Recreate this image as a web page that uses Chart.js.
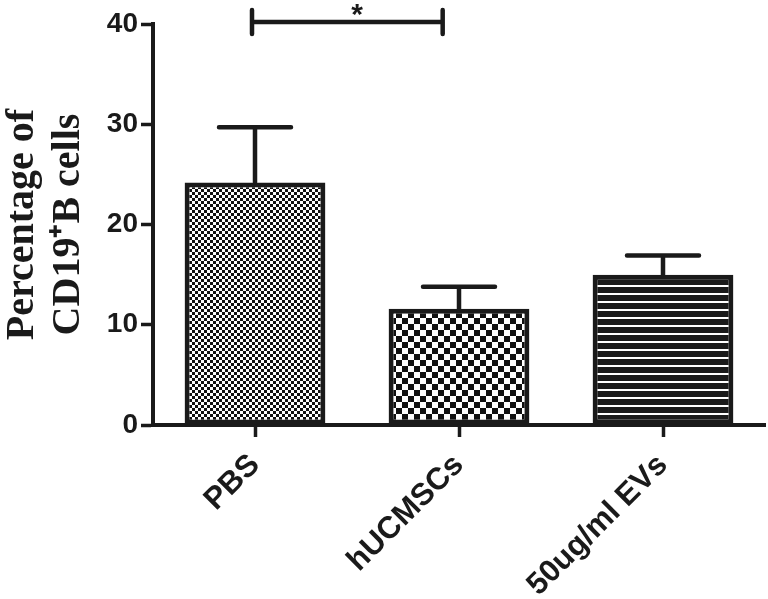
<!DOCTYPE html>
<html>
<head>
<meta charset="utf-8">
<script src="https://cdn.jsdelivr.net/npm/chart.js@4.4.1/dist/chart.umd.min.js"></script>
<style>
  html, body { margin: 0; padding: 0; background: #fff; }
  #wrap { width: 768px; height: 599px; position: relative; }
</style>
</head>
<body>
<div id="wrap"><canvas id="chart"></canvas></div>
<script>
// данные
const groups = ['PBS', 'hUCMSCs', '50ug/ml EVs'];
const means = [24.2, 11.6, 15.0];
const errs = [5.5, 2.2, 1.9];
const yTicks = [0, 10, 20, 30, 40];
// значимость: от какой группы к какой, уровень, метка и её место
const sigFrom = [0];
const sigTo = [0.92];
const sigLevel = [40.2];
const sigLabel = ['*'];
const sigLabelAt = [0.5];

// паттерны заливки
function makePattern(kind) {
  const c = document.createElement('canvas');
  const g = c.getContext('2d');
  if (kind === 'fine' || kind === 'coarse') {
    const s = kind === 'fine' ? 3 : 6;
    c.width = c.height = s * 2;
    g.fillStyle = '#fff';
    g.fillRect(0, 0, s * 2, s * 2);
    g.fillStyle = '#111';
    g.fillRect(0, 0, s, s);
    g.fillRect(s, s, s, s);
  } else {
    c.width = 8; c.height = 8;
    g.fillStyle = '#1a1a1a';
    g.fillRect(0, 0, 8, 8);
    g.fillStyle = '#fff';
    g.fillRect(0, 5, 8, 2);
  }
  return g.createPattern(c, 'repeat');
}
const fills = [makePattern('fine'), makePattern('coarse'), makePattern('lines')];

// усы ошибок
const errorBars = {
  id: 'errorBars',
  afterDatasetsDraw(chart) {
    const ctx = chart.ctx;
    const meta = chart.getDatasetMeta(0);
    const y = chart.scales.y;
    ctx.save();
    ctx.strokeStyle = '#1a1a1a';
    ctx.lineWidth = 4.5;
    ctx.lineCap = 'round';
    meta.data.forEach((bar, i) => {
      const top = y.getPixelForValue(means[i] + errs[i]);
      const base = y.getPixelForValue(means[i]);
      ctx.beginPath();
      ctx.moveTo(bar.x, base);
      ctx.lineTo(bar.x, top);
      ctx.moveTo(bar.x - 36, top);
      ctx.lineTo(bar.x + 36, top);
      ctx.stroke();
    });
    ctx.restore();
  }
};

// линия значимости
const sigBars = {
  id: 'sigBars',
  afterDraw(chart) {
    const ctx = chart.ctx;
    const x = chart.scales.x, y = chart.scales.y;
    ctx.save();
    ctx.strokeStyle = '#1a1a1a';
    ctx.fillStyle = '#1a1a1a';
    ctx.lineWidth = 4.5;
    ctx.lineCap = 'round';
    sigFrom.forEach((f, i) => {
      const x1 = x.getPixelForValue(f) - 3;
      const x2 = x.getPixelForValue(sigTo[i]);
      const yy = y.getPixelForValue(sigLevel[i]);
      ctx.beginPath();
      ctx.moveTo(x1, yy); ctx.lineTo(x2, yy);
      ctx.moveTo(x1, yy - 12); ctx.lineTo(x1, yy + 12);
      ctx.moveTo(x2, yy - 12); ctx.lineTo(x2, yy + 12);
      ctx.stroke();
      ctx.font = 'bold 30px "Liberation Sans", Arial, sans-serif';
      ctx.textAlign = 'center';
      ctx.textBaseline = 'middle';
      ctx.fillText(sigLabel[i], x.getPixelForValue(sigLabelAt[i]), yy - 6);
    });
    ctx.restore();
  }
};

new Chart(document.getElementById('chart'), {
  type: 'bar',
  data: {
    labels: groups,
    datasets: [{
      data: means,
      backgroundColor: fills,
      borderColor: '#1a1a1a',
      borderWidth: 5,
      borderSkipped: false,
      barPercentage: 0.69,
      categoryPercentage: 1
    }]
  },
  options: {
    responsive: true,
    maintainAspectRatio: false,
    animation: false,
    layout: { padding: { top: 24, right: 3, left: 0, bottom: 0 } },
    plugins: { legend: { display: false }, tooltip: { enabled: false } },
    scales: {
      x: {
        grid: { offset: false, drawOnChartArea: false, drawTicks: true, tickLength: 12, tickWidth: 3.5, tickColor: '#1a1a1a' },
        border: { display: true, color: '#1a1a1a', width: 4 },
        ticks: {
          color: '#1a1a1a',
          maxRotation: 45, minRotation: 45,
          padding: 10,
          font: { family: '"Liberation Sans", Arial, sans-serif', size: 31, weight: 'bold' }
        },
        afterFit(scale) { scale.height = 174; }
      },
      y: {
        min: 0, max: 40,
        afterBuildTicks(scale) { scale.ticks = yTicks.map(v => ({ value: v })); },
        grid: { drawOnChartArea: false, drawTicks: true, tickLength: 12, tickWidth: 3.5, tickColor: '#1a1a1a' },
        border: { display: true, color: '#1a1a1a', width: 4 },
        ticks: {
          color: '#1a1a1a',
          padding: 3,
          font: { family: '"Liberation Sans", Arial, sans-serif', size: 28, weight: 'bold' }
        },
        title: {
          display: true,
          text: ['Percentage of', 'CD19\u207AB cells'],
          color: '#1a1a1a',
          padding: 0,
          font: { family: '"Liberation Serif", "Times New Roman", serif', size: 40, weight: 'bold', lineHeight: 1.15 }
        },
        afterFit(scale) { scale.width = 153; }
      }
    }
  },
  plugins: [errorBars, sigBars]
});
</script>
</body>
</html>
